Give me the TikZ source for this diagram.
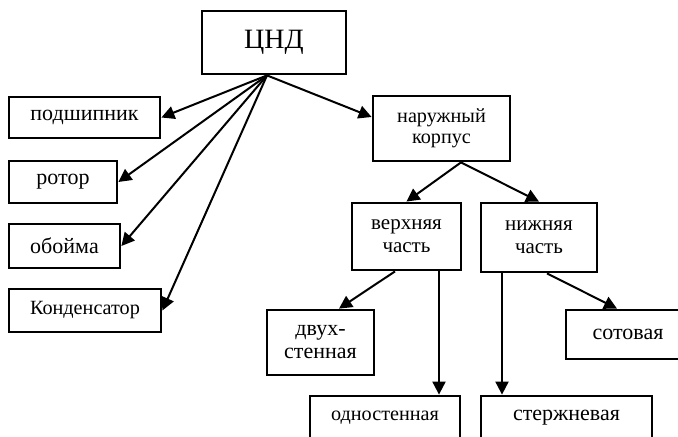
\documentclass[tikz,border=0pt]{standalone}
\usepackage{fontspec}
\setmainfont{Liberation Serif}
\usetikzlibrary{arrows.meta}
\begin{document}
\begin{tikzpicture}[x=0.5pt, y=-0.5pt]
      \tikzset{block/.style={draw, line width=1.4pt, inner sep=0pt, align=center, font=\fontsize{11}{11.5}\selectfont},
               small/.style={font=\fontsize{10.1}{10.5}\selectfont},
               arr/.style={line width=1pt, -{Triangle[length=6.5pt, width=6.5pt]}}}
      \useasboundingbox (0,0) rectangle (678,437);
      \clip (0,0) rectangle (678,437);
%% Blocks
      	\node[block, minimum width=72pt, minimum height=31.5pt, font=\fontsize{14}{14}\selectfont] (cnd) at (274,42.5) {ЦНД};
      	\node[block, minimum width=75.5pt, minimum height=20.5pt] (podsh) at (84.5,117.5) {подшипник};
      	\node[block, minimum width=54pt, minimum height=21pt] (rotor) at (63,182) {ротор};
      	\node[block, minimum width=55.5pt, minimum height=22pt] (oboima) at (64.5,246) {обойма};
      	\node[block, small, minimum width=76pt, minimum height=21.5pt] (kond) at (85,310.5) {Конденсатор};
      	\node[block, small, minimum width=68.5pt, minimum height=32.5pt] (nk) at (441.5,128.5) {наружный\\корпус};
      	\node[block, font=\fontsize{10.5}{11.5}\selectfont, minimum width=54.5pt, minimum height=33.5pt] (verh) at (406.5,236.5) {верхняя\\часть};
      	\node[block, font=\fontsize{10.5}{11.5}\selectfont, minimum width=58pt, minimum height=34.5pt] (nizh) at (539,237.5) {нижняя\\часть};
      	\node[block, minimum width=53.5pt, minimum height=32.5pt] (dvuh) at (320.5,342.5) {двух-\\стенная};
      	\node[block, minimum width=62pt, minimum height=24.5pt] (sot) at (628,334.5) {сотовая};
      	\node[block, small, minimum width=75pt, minimum height=22pt] (odn) at (385,418) {одностенная};
      	\node[block, minimum width=85.5pt, minimum height=22pt] (sterzh) at (566.5,418) {стержневая};
%% Arrows
		\path[arr] ([xshift=-3.5pt]cnd.south) edge (podsh.east);
		\path[arr] ([xshift=-3.5pt]cnd.south) edge (rotor.east);
		\path[arr] ([xshift=-3.5pt]cnd.south) edge (oboima.east);
		\path[arr] ([xshift=-3.5pt]cnd.south) edge (kond.east);
		\path[arr] ([xshift=-3.5pt]cnd.south) edge ([yshift=5.75pt]nk.west);
		\path[arr] ([xshift=9.75pt]nk.south) edge (verh.north);
		\path[arr] ([xshift=9.75pt]nk.south) edge (nizh.north);
		\path[arr] ([xshift=-5.75pt]verh.south) edge ([xshift=9.25pt]dvuh.north);
		\path[arr] ([xshift=16.25pt]verh.south) edge ([xshift=16.25pt]verh.south |- odn.north);
		\path[arr] ([xshift=-18.5pt]nizh.south) edge ([xshift=-18.5pt]nizh.south |- sterzh.north);
		\path[arr] ([xshift=4pt]nizh.south) edge ([xshift=-5.5pt]sot.north);
	\end{tikzpicture}
\end{document}
